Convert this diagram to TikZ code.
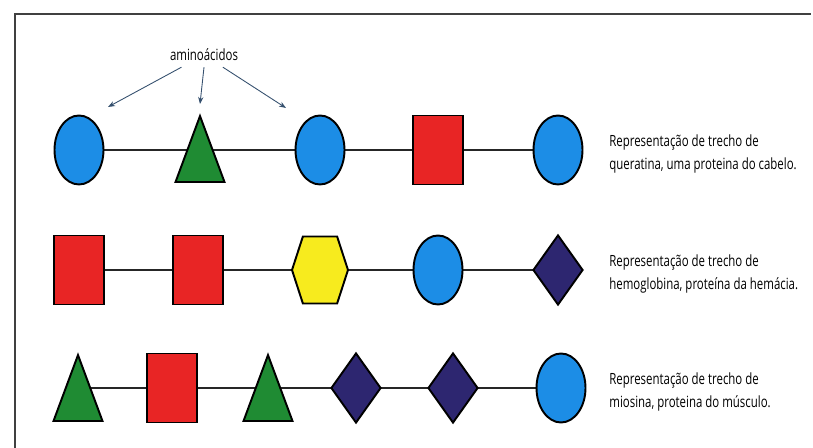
\documentclass[tikz,border=0pt]{standalone}
\usepackage{fontspec}
\setmainfont[FakeStretch=0.74]{Open Sans}
\usetikzlibrary{shapes.geometric,shapes.symbols,arrows.meta,backgrounds}
\definecolor{aaBlue}{HTML}{1C8DE6}
\definecolor{aaGreen}{HTML}{1F8B33}
\definecolor{aaRed}{HTML}{E82525}
\definecolor{aaYellow}{HTML}{F7EB1E}
\definecolor{aaPurple}{HTML}{2D2670}
\definecolor{pointerGray}{HTML}{35506E}

\begin{document}
\begin{tikzpicture}[x=0.02cm,y=0.02cm]
  \tikzset{
    residue/.style={draw=black,line width=1.1pt,inner sep=0pt},
    bead/.style={residue,ellipse,fill=aaBlue,minimum width=0.98cm,minimum height=1.38cm},
    block/.style={residue,rectangle,fill=aaRed,minimum width=1cm,minimum height=1.38cm},
    tri/.style={residue,isosceles triangle,isosceles triangle stretches,shape border rotate=90,
      fill=aaGreen,minimum width=0.98cm,minimum height=1.32cm,anchor=lower side},
    gem/.style={residue,diamond,fill=aaPurple,minimum width=1cm,minimum height=1.4cm},
    hexa/.style={residue,signal,signal to=east and west,signal pointer angle=144,
      fill=aaYellow,minimum width=1.12cm,minimum height=1.34cm},
    link/.style={line width=0.6pt,black!85},
    caption/.style={anchor=west,align=left,inner sep=0pt,font=\fontsize{8.8}{13}\selectfont},
    pointer/.style={pointerGray,line width=0.5pt,-{Stealth[length=4pt,width=3pt]}}
  }
  \useasboundingbox (0,0) rectangle (813,448);
  \draw[line width=1pt,black!75] (15,0) -- (15,434) -- (811,434);

  % queratina (triangles sit on their base line)
  \node[bead]  (c1) at (79,298) {};
  \node[tri]   (t1) at (200,265) {};
  \node[bead]  (c2) at (320,298) {};
  \node[block] (s1) at (438,298) {};
  \node[bead]  (c3) at (558,298) {};
  \node[caption] (capA) at (609,294) {Representação de trecho de\\queratina, uma proteina do cabelo.};

  % hemoglobina
  \node[block] (s2) at (79,178) {};
  \node[block] (s3) at (198,178) {};
  \node[hexa]  (h1) at (320,178) {};
  \node[bead]  (c4) at (438,178) {};
  \node[gem]   (d1) at (558,178) {};
  \node[caption] (capB) at (609,174) {Representação de trecho de\\hemoglobina, proteína da hemácia.};

  % miosina
  \node[tri]   (t2) at (78,26) {};
  \node[block] (s4) at (172,60) {};
  \node[tri]   (t3) at (268,26) {};
  \node[gem]   (d2) at (356,60) {};
  \node[gem]   (d3) at (453,60) {};
  \node[bead]  (c5) at (561,60) {};
  \node[caption] (capC) at (609,56) {Representação de trecho de\\miosina, proteina do músculo.};

  \begin{scope}[on background layer]
    \draw[link] (c1.center) -- (t1 |- c1) -- (c2.center) -- (s1.center) -- (c3.center);
    \draw[link] (s2.center) -- (s3.center) -- (h1.center) -- (c4.center) -- (d1.center);
    \draw[link] (t2 |- s4) -- (s4.center) -- (t3 |- s4) -- (d2.center) -- (d3.center) -- (c5.center);
  \end{scope}

  % label and its arrows
  \node[font=\fontsize{8.8}{13}\selectfont] (amino) at (204,393) {aminoácidos};
  \coordinate (tipA) at (108,341);
  \coordinate (tipB) at (200,344);
  \coordinate (tipC) at (286,340);
  \draw[pointer] (amino) -- (tipA);
  \draw[pointer] (amino.south) -- (tipB);
  \draw[pointer] (amino) -- (tipC);
\end{tikzpicture}
\end{document}
